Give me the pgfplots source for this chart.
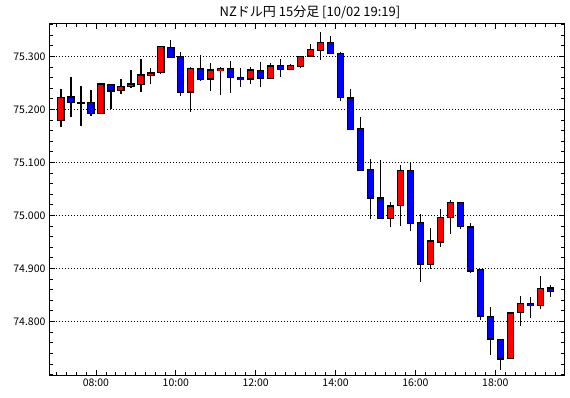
\documentclass[border=0pt]{standalone}
\usepackage{pgfplots}
\usepackage{pgfplotstable}
\pgfplotsset{compat=1.18}
\usepackage{fontspec}
\setmainfont{Noto Sans CJK JP}

% t = candle centre (hours), o h l c = open high low close
\pgfplotstableread{
t o h l c
7.125 75.180 75.239 75.168 75.224
7.375 75.225 75.261 75.186 75.214
7.625 75.213 75.244 75.169 75.213
7.875 75.214 75.237 75.188 75.193
8.125 75.192 75.249 75.191 75.248
8.375 75.248 75.248 75.201 75.236
8.625 75.236 75.258 75.229 75.244
8.875 75.244 75.276 75.242 75.248
9.125 75.248 75.295 75.233 75.266
9.375 75.266 75.279 75.249 75.270
9.625 75.270 75.320 75.268 75.319
9.875 75.319 75.331 75.298 75.300
10.125 75.300 75.309 75.226 75.233
10.375 75.234 75.280 75.196 75.278
10.625 75.278 75.303 75.253 75.258
10.875 75.257 75.289 75.236 75.274
11.125 75.274 75.280 75.227 75.278
11.375 75.278 75.292 75.231 75.261
11.625 75.261 75.278 75.242 75.257
11.875 75.257 75.281 75.249 75.274
12.125 75.274 75.289 75.242 75.259
12.375 75.259 75.287 75.257 75.283
12.625 75.283 75.295 75.261 75.276
12.875 75.276 75.287 75.275 75.283
13.125 75.283 75.302 75.279 75.302
13.375 75.302 75.325 75.300 75.314
13.625 75.312 75.348 75.295 75.327
13.875 75.327 75.339 75.305 75.306
14.125 75.306 75.309 75.217 75.223
14.375 75.223 75.239 75.162 75.164
14.625 75.164 75.186 75.084 75.085
14.875 75.087 75.108 74.995 75.033
15.125 75.033 75.106 74.993 74.995
15.375 74.995 75.026 74.979 75.019
15.625 75.019 75.097 74.981 75.086
15.875 75.086 75.100 74.973 74.987
16.125 74.987 75.003 74.875 74.908
16.375 74.908 74.976 74.899 74.952
16.625 74.951 75.012 74.941 74.997
16.875 74.997 75.029 74.965 75.025
17.125 75.025 75.025 74.975 74.979
17.375 74.980 74.986 74.892 74.897
17.625 74.897 74.897 74.803 74.810
17.875 74.810 74.827 74.738 74.768
18.125 74.768 74.768 74.710 74.731
18.375 74.731 74.817 74.731 74.817
18.625 74.817 74.850 74.792 74.834
18.875 74.834 74.846 74.807 74.831
19.125 74.831 74.886 74.824 74.863
19.375 74.863 74.869 74.847 74.857
}\candles

\begin{document}
\begin{tikzpicture}
\useasboundingbox (-50pt,-22.7pt) rectangle (520pt,375.3pt);
\begin{axis}[
  at={(0pt,0pt)}, anchor=south west,
  scale only axis, width=514pt, height=351.3pt,
  xmin=6.85, xmax=19.72, ymin=74.6985, ymax=75.3613,
  axis line style={black, line width=1pt},
  tick pos=both, tick align=inside,
  xticklabel pos=lower, yticklabel pos=left,
  xtick={8,10,12,14,16,18},
  xticklabels={08:00,10:00,12:00,14:00,16:00,18:00},
  minor xtick={7,7.25,...,19.5},
  ytick={74.8,74.9,75.0,75.1,75.2,75.3},
  yticklabels={74.800,74.900,75.000,75.100,75.200,75.300},
  minor ytick={74.70,74.72,...,75.37},
  major tick length=5pt, minor tick length=3pt,
  every tick/.style={black, line width=0.8pt},
  ymajorgrids,
  major grid style={black, line width=0.9pt, dash pattern=on 1pt off 2pt},
  tick label style={font=\fontsize{10.5}{12}\selectfont},
  yticklabel style={xshift=-1pt},
  unbounded coords=discard,
  title={NZドル円 15分足 [10/02 19:19]},
  title style={font=\fontsize{13}{15}\selectfont, at={(0.5,1)}, anchor=center, yshift=6pt, xshift=3pt},
  candle/.style={draw=none, mark=none, forget plot,
    error bars/y dir=both, error bars/y explicit, error bars/error mark=none,
    error bars/error bar style={draw=#1, solid}},
]
% wicks
\addplot[candle=black, error bars/error bar style={line width=1.3pt}]
  table[x=t, y expr={(\thisrow{h}+\thisrow{l})/2}, y error expr={(\thisrow{h}-\thisrow{l})/2}] {\candles};
% body outlines
\addplot[candle=black, error bars/error bar style={line width=7.4pt}]
  table[x=t, y expr={(\thisrow{o}+\thisrow{c})/2}, y error expr={abs(\thisrow{c}-\thisrow{o})/2+0.0012}] {\candles};
% up bodies (red)
\addplot[candle=red, error bars/error bar style={line width=5pt}]
  table[x=t, y expr={\thisrow{c}>\thisrow{o} ? (\thisrow{o}+\thisrow{c})/2 : nan}, y error expr={max((\thisrow{c}-\thisrow{o})/2-0.0012,0.0002)}] {\candles};
% down bodies (blue)
\addplot[candle=blue, error bars/error bar style={line width=5pt}]
  table[x=t, y expr={\thisrow{o}>\thisrow{c} ? (\thisrow{o}+\thisrow{c})/2 : nan}, y error expr={max((\thisrow{o}-\thisrow{c})/2-0.0012,0.0002)}] {\candles};
\end{axis}
\end{tikzpicture}
\end{document}
